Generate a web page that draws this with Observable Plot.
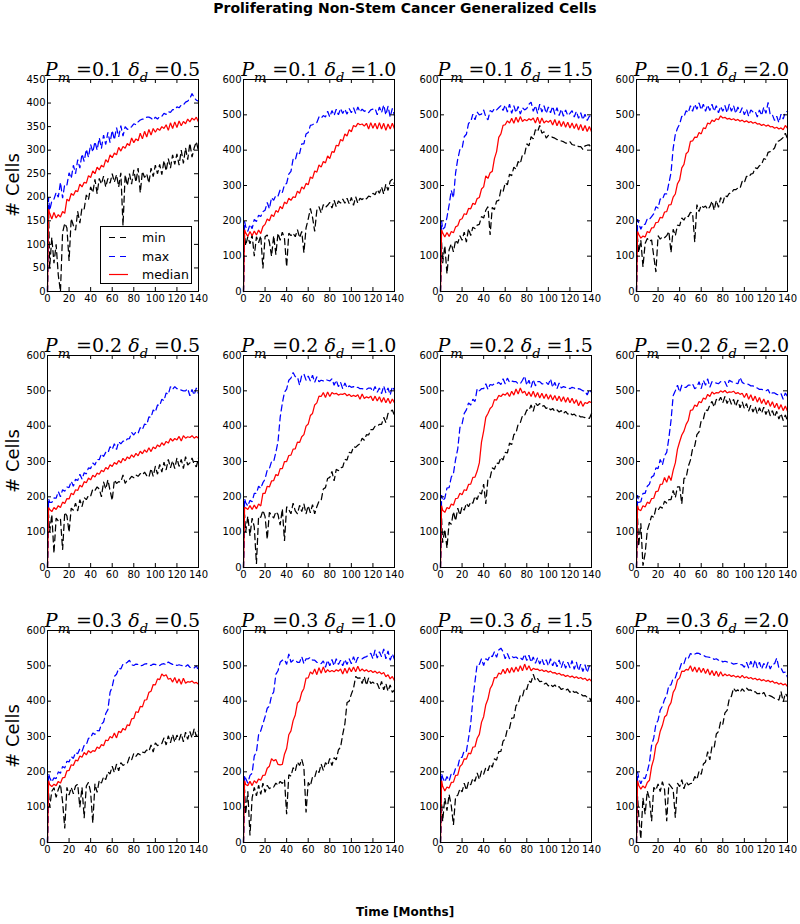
<!DOCTYPE html>
<html><head><meta charset="utf-8">
<script src="https://cdn.jsdelivr.net/npm/d3@7"></script>
<script src="https://cdn.jsdelivr.net/npm/@observablehq/plot@0.6"></script>
<style>
body{margin:0;background:#fff;}
#fig{position:relative;width:800px;height:924px;background:#fff;overflow:hidden;font-family:"DejaVu Sans",sans-serif;}
#fig svg{position:absolute;}
.ptitle{position:absolute;font-family:"DejaVu Serif",serif;font-size:19px;line-height:19px;white-space:nowrap;transform:translateX(-50%);color:#000;}
.ptitle .sub{font-size:13px;position:relative;top:6px;font-style:italic;}
.ptitle i{font-style:italic;}
.suptitle{position:absolute;left:405px;top:0px;transform:translateX(-50%);font-weight:bold;font-size:14px;white-space:nowrap;}
.xlabel{position:absolute;left:405px;top:905px;transform:translateX(-50%);font-weight:bold;font-size:12px;white-space:nowrap;}
.ylabel{position:absolute;font-size:18px;white-space:nowrap;transform:translate(-50%,-50%) rotate(-90deg);}
.legend{position:absolute;background:#fff;border:1px solid #000;box-sizing:border-box;}
</style>
</head><body>
<div id="fig"></div>
<script>
// ---------- data ----------
const months = [0,1,2,4,6,8,10,12,14,16,18,20,22,24,26,28,30,32,34,36,38,40,42,44,46,48,50,52,54,56,58,60,62,64,66,68,70,72,74,76,78,80,82,84,86,88,90,92,94,96,98,100,102,104,106,108,110,112,114,116,118,120,122,124,126,128,130,132,134,136,138,140];
const xTicks = [0,20,40,60,80,100,120,140];
const yTicks450 = [0,50,100,150,200,250,300,350,400,450];
const yTicks600 = [0,100,200,300,400,500,600];
const pmValues = ["0.1","0.2","0.3"];
const deltaValues = ["0.5","1.0","1.5","2.0"];
const seriesNames = ["min","max","median"];

// Pm=0.1, delta=0.5
const p1Min = [0,180, 50,115,60,100,35,0,125,145,135,65, 155,140,130,170,145,178,175,205,195,222, 210,238,208,240,228,245,222,240,230,250, 232,248,222,252,140,248,225,250,228,258, 232,262,210,255,242,250,230,262,244,268, 250,270,248,278,256,282,262,290,270,292, 268,300,272,305,280,315,285,305,318,298];
const p1Max = [0,200, 172,192,196,210,200,232,198,228,226,252, 240,268,250,280,262,292,276,302,285,312, 296,318,300,326,304,332,312,338,316,342, 322,348,328,352,330,350,344,346,350,356, 354,360,364,366,366,370,370,368,364,370, 366,372,372,378,376,382,380,386,386,392, 390,396,396,402,404,410,420,412,406,404];
const p1Median = [0,175, 166,154,168,156,163,158,170,166,196,192, 208,204,214,212,228,222,232,230,246,242, 256,250,264,258,268,264,280,274,290,284, 294,290,306,298,308,304,314,310,326,316, 324,320,336,324,340,328,344,332,346,338, 346,342,350,346,354,342,358,346,360,348, 362,352,361,356,366,360,368,364,370,360];
// Pm=0.1, delta=1.0
const p2Min = [0,160, 130,155,135,160,100,155,138,158,65,155, 160,140,100,158,105,165,145,168,150,70, 165,158,165,155,175,152,170,110,180,205, 235,210,170,230,240,222,246,238,244,252, 236,258,240,256,250,262,250,264,248,266, 244,268,250,264,260,266,262,270,268,278, 274,288,278,296,276,304,286,312,318,304];
const p2Max = [0,198, 184,170,190,178,204,198,216,212,226,230, 252,234,266,258,272,270,288,280,302,306, 332,340,375,372,396,390,418,418,446,450, 470,472,476,478,494,490,498,494,510,494, 512,498,516,500,518,504,516,502,518,506, 520,504,522,508,516,510,512,506,514,516, 518,500,522,506,528,500,524,494,518,498];
const p2Median = [0,175, 166,156,170,158,171,160,174,164,184,190, 205,200,217,212,229,224,241,234,253,248, 264,258,268,266,284,278,296,290,306,302, 324,320,341,338,358,352,368,364,384,376, 396,394,414,412,430,426,446,440,458,452, 470,466,476,472,474,468,476,460,478,462, 476,460,478,460,476,456,474,460,476,460];
// Pm=0.1, delta=1.5
const p3Min = [0,140, 80,130,50,118,135,112,146,136,158,145, 168,140,178,158,182,178,188,190,212,208, 230,240,160,238,232,256,258,288,282,308, 302,332,328,352,346,368,362,388,388,418, 412,438,432,458,452,470,448,452,434,442, 440,436,434,430,428,426,424,420,420,424, 416,414,415,410,410,402,412,414,415,405];
const p3Max = [0,200, 176,182,210,245,286,265,336,375,402,405, 438,445,476,480,502,486,508,500,502,514, 494,486,512,508,518,514,520,526,512,528, 508,530,504,526,506,524,502,520,514,518, 530,536,510,526,504,530,508,526,504,522, 506,524,502,520,498,516,496,514,498,504, 512,494,510,490,506,486,502,484,496,498];
const p3Median = [0,175, 166,154,167,156,170,166,183,186,203,206, 220,218,235,234,250,246,263,266,290,296, 327,320,336,340,376,396,436,446,470,472, 483,477,490,476,493,479,495,481,487,483, 489,485,491,477,493,475,491,477,483,479, 485,471,487,469,483,467,481,465,479,463, 477,461,475,457,473,455,470,453,467,452];
// Pm=0.1, delta=2.0
const p4Min = [0,150, 110,145,70,136,150,142,146,100,55,158, 148,155,152,158,170,110,176,158,188,186, 208,202,214,212,224,222,140,246,226,244, 238,242,232,240,256,230,258,238,266,250, 272,268,278,278,288,288,293,292,312,308, 326,324,332,334,350,348,356,360,376,374, 394,396,400,406,424,426,430,436,448,432];
const p4Max = [0,205, 194,176,190,190,206,204,212,220,240,236, 262,260,276,276,306,336,405,445,462,474, 496,494,512,506,526,510,530,516,534,514, 530,510,528,512,530,510,526,506,524,510, 526,506,530,510,526,504,522,506,520,500, 516,496,514,508,510,494,514,498,522,504, 535,500,500,484,496,478,502,488,508,510];
const p4Median = [0,170, 162,151,157,154,170,166,180,181,195,196, 210,208,225,226,245,246,267,276,305,316, 350,360,390,396,425,426,437,436,450,446, 463,461,477,474,485,481,489,486,497,491, 493,488,490,486,489,484,487,482,485,480, 483,478,481,476,479,474,475,470,473,468, 471,466,467,462,465,460,463,458,470,462];
// Pm=0.2, delta=0.5
const p5Min = [0,150, 100,150,40,140,132,138,50,156,146,100, 168,162,182,160,192,172,198,192,204,202, 222,218,228,222,200,242,222,248,218,190, 248,238,243,242,262,238,248,250,258,254, 262,258,266,262,270,260,255,280,258,286, 264,292,270,298,276,306,282,302,280,310, 286,306,280,314,290,296,310,292,285,310];
const p5Max = [0,195, 184,184,197,196,215,200,220,216,228,226, 244,230,250,246,264,250,268,265,282,280, 296,290,306,305,322,314,326,324,342,334, 350,334,356,350,358,356,364,365,382,375, 384,380,396,390,406,404,426,425,446,440, 460,458,476,472,494,490,512,504,512,506, 506,502,500,500,506,486,504,488,508,492];
const p5Median = [0,170, 164,158,170,164,175,170,185,181,195,194, 210,206,220,218,233,228,243,240,253,248, 261,256,267,264,275,271,283,278,291,286, 297,292,303,296,309,302,313,308,319,312, 323,316,329,322,333,326,339,328,341,336, 347,342,353,346,357,352,365,358,365,361, 371,358,373,366,370,368,373,366,371,366];
// Pm=0.2, delta=1.0
const p6Min = [0,150, 100,145,90,140,115,10,145,142,162,144, 80,156,148,140,158,150,120,166,75,172, 164,152,182,160,152,176,158,180,152,175, 155,178,152,172,188,190,222,226,252,255, 272,245,278,274,282,284,306,304,326,324, 342,340,346,350,366,360,376,375,390,390, 400,400,405,405,425,410,436,440,446,430];
const p6Max = [0,195, 184,174,190,186,210,210,230,224,240,250, 276,280,300,300,326,356,425,465,496,505, 530,536,552,540,540,516,544,548,530,542, 528,544,524,540,526,530,528,532,530,528, 534,516,530,512,524,506,522,508,514,510, 512,508,510,506,506,504,504,508,508,498, 512,496,508,492,514,494,508,488,512,502];
const p6Median = [0,170, 169,164,175,164,177,166,180,174,210,210, 230,228,245,246,263,260,280,280,300,300, 317,318,335,336,355,354,370,376,400,406, 430,436,460,466,485,484,495,481,497,484, 495,491,493,488,491,490,493,486,490,484, 487,484,489,476,491,478,483,480,485,472, 485,471,483,468,481,466,479,464,477,466];
// Pm=0.2, delta=1.5
const p7Min = [0,140, 70,108,55,128,122,158,132,168,148,172, 162,182,172,186,182,202,192,212,208,236, 180,252,254,282,278,296,294,312,304,326, 324,352,348,376,380,406,410,430,430,446, 444,460,442,466,458,464,456,458,450,454, 446,450,442,446,440,444,436,442,434,438, 432,434,428,431,426,426,424,424,422,436];
const p7Max = [0,205, 189,196,225,226,256,266,306,336,396,406, 436,446,466,460,476,470,506,500,506,506, 520,504,518,516,520,520,524,518,534,520, 536,524,528,526,526,520,520,530,542,516, 530,510,532,514,526,526,520,520,524,518, 534,510,524,506,522,508,512,510,510,506, 510,508,504,506,504,500,500,488,504,496];
const p7Median = [0,175, 162,156,170,166,180,176,195,196,210,206, 220,218,235,236,255,256,273,296,355,386, 425,436,450,456,475,474,487,484,491,488, 495,484,499,488,505,491,508,494,499,486, 497,484,499,482,495,480,493,478,491,476, 489,474,487,472,485,470,483,468,481,466, 479,464,475,458,471,456,467,464,470,466];
// Pm=0.2, delta=2.0
const p8Min = [0,140, 60,125,5,40,105,125,146,142,168,162, 172,168,188,182,192,192,218,198,228,228, 180,252,254,286,304,336,344,376,384,416, 420,446,444,460,470,454,476,470,482,466, 484,464,479,462,476,456,474,452,469,450, 464,443,459,440,456,435,452,437,454,433, 449,430,444,426,442,420,436,416,432,414];
const p8Max = [0,205, 184,186,210,210,230,236,256,260,282,280, 306,290,316,326,366,416,486,500,516,496, 516,510,510,516,516,520,506,510,526,506, 530,516,534,510,526,524,522,520,526,526, 526,512,530,526,524,522,520,538,524,520, 520,518,514,514,510,508,504,504,502,500, 504,490,494,494,490,488,492,476,494,484];
const p8Median = [0,175, 164,161,175,171,185,181,195,196,215,216, 235,236,255,241,260,246,275,296,335,356, 375,386,405,416,445,446,460,456,470,466, 480,476,490,484,497,491,495,494,500,496, 501,494,497,496,499,492,495,490,493,481, 493,476,489,472,485,468,481,464,477,461, 473,456,469,452,465,448,461,444,457,442];
// Pm=0.3, delta=0.5
const p9Min = [0,140, 100,145,155,128,150,165,115,40,156,134, 156,138,160,165,100,156,70,160,170,142, 55,166,142,176,168,186,178,200,194,216, 198,222,203,226,218,222,224,242,234,252, 244,252,248,256,254,262,258,276,256,282, 274,278,280,296,276,302,282,306,284,304, 290,308,285,312,292,314,296,322,300,316];
const p9Max = [0,195, 184,171,183,181,200,196,215,211,230,228, 243,238,255,251,265,258,275,276,295,296, 310,306,317,316,335,341,365,376,425,441, 470,476,493,491,505,506,510,516,503,501, 505,504,500,501,505,506,503,501,505,504, 500,501,505,506,503,511,507,504,505,501, 503,501,500,498,503,496,495,494,500,486];
const p9Median = [0,175, 164,158,165,161,173,168,183,184,203,204, 220,218,233,231,245,241,255,248,260,254, 260,258,270,266,277,274,290,288,300,296, 310,296,315,311,323,318,333,331,350,351, 370,368,385,384,403,404,425,428,447,446, 463,461,477,471,475,462,465,454,467,451, 463,448,465,451,455,454,457,451,453,448];
// Pm=0.3, delta=1.0
const p10Min = [0,150, 80,145,20,126,156,132,162,136,168,142, 162,152,158,157,168,162,173,167,178,80, 192,188,212,202,228,218,236,212,85,170, 160,186,184,206,198,222,204,226,218,238, 218,240,234,262,270,306,336,396,400,420, 436,470,465,466,450,470,445,466,450,454, 447,450,435,456,432,450,428,446,425,432];
const p10Max = [0,190, 182,168,190,196,245,256,305,316,336,356, 380,386,416,426,476,486,510,516,518,504, 534,510,516,516,510,510,526,506,520,520, 524,516,516,510,510,506,514,496,516,500, 518,500,520,504,516,500,518,504,520,506, 526,508,524,520,520,524,526,530,536,520, 545,522,540,526,548,520,542,516,534,518];
const p10Median = [0,175, 164,161,173,161,175,168,180,176,190,191, 210,216,237,231,235,221,220,221,250,266, 305,316,345,361,395,401,425,436,465,466, 483,477,491,475,495,479,497,481,489,483, 487,483,489,485,491,477,493,479,495,483, 497,483,499,485,491,485,489,483,487,481, 485,479,483,477,481,469,475,463,470,458];
// Pm=0.3, delta=1.5
const p11Min = [0,110, 60,126,90,136,104,50,130,134,152,143, 168,148,172,163,182,173,197,178,202,193, 212,203,222,213,237,233,257,258,287,293, 322,323,352,353,387,393,417,413,437,433, 457,453,476,458,464,455,456,448,451,443, 448,441,446,438,441,433,436,431,434,425, 431,425,426,421,421,415,416,411,411,398];
const p11Max = [0,195, 184,171,187,174,195,191,210,214,240,241, 260,258,295,336,405,456,505,504,520,501, 520,516,530,526,540,524,545,550,540,520, 535,520,527,523,525,520,523,517,533,515, 530,510,525,507,523,505,520,503,517,500, 520,500,515,497,517,495,513,493,510,495, 515,490,510,486,505,484,503,481,500,488];
const p11Median = [0,175, 159,146,157,154,170,171,190,191,215,221, 237,236,253,251,270,271,295,306,340,356, 390,406,435,446,467,466,480,476,490,478, 493,480,495,482,497,484,500,486,505,488, 500,486,493,490,491,486,489,484,487,482, 485,480,481,476,479,474,475,470,473,468, 471,466,469,464,467,462,465,458,463,456];
// Pm=0.3, delta=2.0
const p12Min = [0,130, 80,10,126,80,146,124,60,156,148,166, 144,172,150,60,166,158,150,70,168,158, 178,152,172,163,167,168,187,178,202,193, 222,228,257,234,272,268,307,314,342,334, 367,374,407,414,437,428,432,425,435,428, 437,431,432,425,427,421,422,418,425,413, 417,415,412,408,407,403,427,398,422,413];
const p12Max = [0,200, 184,166,183,181,200,226,275,296,335,346, 375,386,405,416,445,446,465,466,485,491, 510,506,525,521,535,531,533,536,535,531, 530,526,525,524,523,518,520,516,517,511, 513,511,510,508,505,506,507,504,503,496, 510,494,513,496,517,494,510,491,507,494, 510,491,505,506,522,494,494,481,482,468];
const p12Median = [0,175, 162,151,160,154,170,176,215,236,275,286, 315,331,355,361,385,396,425,436,460,466, 485,484,490,488,500,484,497,482,495,481, 493,478,491,474,487,472,485,470,483,471, 477,472,475,470,473,468,471,466,473,466, 469,464,467,462,465,460,463,458,461,456, 459,454,457,451,453,448,451,446,449,441];

// ---------- layout ----------
const panelSeries = [
  [p1Min,p1Max,p1Median],[p2Min,p2Max,p2Median],[p3Min,p3Max,p3Median],[p4Min,p4Max,p4Median],
  [p5Min,p5Max,p5Median],[p6Min,p6Max,p6Median],[p7Min,p7Max,p7Median],[p8Min,p8Max,p8Median],
  [p9Min,p9Max,p9Median],[p10Min,p10Max,p10Median],[p11Min,p11Max,p11Median],[p12Min,p12Max,p12Median]
];
const styles = {
  min: {stroke:"#000000", dash:"6,4"},
  max: {stroke:"#0000ff", dash:"6,4"},
  median: {stroke:"#ff0000", dash:null}
};
const fig = document.getElementById("fig");
const PW = 151, PH = 212, ML = 30, MR = 10, MT = 6, MB = 20;
const colLeft = c => 47 + c * 196.3;
const rowTop = r => 79 + r * 275.5;

panelSeries.forEach((series, i) => {
  const r = Math.floor(i / 4), c = i % 4;
  const yMax = i === 0 ? 450 : 600;
  const yTicks = i === 0 ? yTicks450 : yTicks600;
  const marks = [];
  series.forEach((vals, s) => {
    const name = seriesNames[s];
    const rows = months.map((t, k) => ({t, v: vals[k]}));
    const st = styles[name];
    marks.push(Plot.line(rows, {x: "t", y: "v", stroke: st.stroke, strokeWidth: 1.25,
      strokeDasharray: st.dash || undefined, strokeLinejoin: "miter"}));
  });
  marks.push(Plot.frame({stroke: "#000", strokeWidth: 1}));
  marks.push(Plot.tickX(xTicks, {x: d => d, insetTop: PH - 4, stroke: "#000"}));
  marks.push(Plot.tickX(xTicks, {x: d => d, insetBottom: PH - 4, stroke: "#000"}));
  marks.push(Plot.tickY(yTicks, {y: d => d, insetRight: PW - 4, stroke: "#000"}));
  marks.push(Plot.tickY(yTicks, {y: d => d, insetLeft: PW - 4, stroke: "#000"}));
  marks.push(Plot.axisX(xTicks, {tickSize: 0, tickPadding: 3, label: null, fill: "#000"}));
  marks.push(Plot.axisY(yTicks, {tickSize: 0, tickPadding: 2, label: null, fill: "#000"}));
  const svg = Plot.plot({
    width: ML + PW + MR, height: MT + PH + MB,
    marginLeft: ML, marginRight: MR, marginTop: MT, marginBottom: MB,
    x: {domain: [0, 140]},
    y: {domain: [0, yMax]},
    style: {fontFamily: "DejaVu Sans", fontSize: "10px", background: "transparent", overflow: "visible", color: "#000"},
    marks
  });
  svg.style.left = (colLeft(c) - ML) + "px";
  svg.style.top = (rowTop(r) - MT) + "px";
  fig.appendChild(svg);
});

// panel titles
panelSeries.forEach((_, i) => {
  const r = Math.floor(i / 4), c = i % 4;
  const d = document.createElement("div");
  d.className = "ptitle";
  d.innerHTML = `<i>P</i><span class="sub">m</span> =${pmValues[r]} <i>δ</i><span class="sub">d</span> =${deltaValues[c]}`;
  d.style.left = (colLeft(c) + PW / 2) + "px";
  d.style.top = (rowTop(r) - 3 - 16) + "px";
  fig.appendChild(d);
});

// y labels
[0,1,2].forEach(r => {
  const d = document.createElement("div");
  d.className = "ylabel";
  d.textContent = "# Cells";
  d.style.left = "12px";
  d.style.top = (rowTop(r) + PH / 2) + "px";
  fig.appendChild(d);
});

// suptitle & x label
const st = document.createElement("div");
st.className = "suptitle";
st.textContent = "Proliferating Non-Stem Cancer Generalized Cells";
fig.appendChild(st);
const xl = document.createElement("div");
xl.className = "xlabel";
xl.textContent = "Time [Months]";
fig.appendChild(xl);

// legend in first panel
const lg = document.createElement("div");
lg.className = "legend";
lg.style.left = "100px"; lg.style.top = "226px"; lg.style.width = "92px"; lg.style.height = "58px";
const ns = "http://www.w3.org/2000/svg";
const lsvg = document.createElementNS(ns, "svg");
lsvg.setAttribute("width", 90); lsvg.setAttribute("height", 56);
lsvg.style.position = "absolute"; lsvg.style.left = "0px"; lsvg.style.top = "0px";
seriesNames.forEach((name, k) => {
  const y = Math.round(10 + k * 18.5) + 0.5;
  const ln = document.createElementNS(ns, "line");
  ln.setAttribute("x1", 8); ln.setAttribute("x2", 27);
  ln.setAttribute("y1", y); ln.setAttribute("y2", y);
  ln.setAttribute("stroke", styles[name].stroke);
  ln.setAttribute("stroke-width", 1.2);
  if (styles[name].dash) ln.setAttribute("stroke-dasharray", "6,5");
  lsvg.appendChild(ln);
  const tx = document.createElementNS(ns, "text");
  tx.setAttribute("x", 41); tx.setAttribute("y", y + 4);
  tx.setAttribute("font-family", "DejaVu Sans");
  tx.setAttribute("font-size", "12.5px");
  tx.textContent = name;
  lsvg.appendChild(tx);
});
lg.appendChild(lsvg);
fig.appendChild(lg);
</script>
</body></html>
